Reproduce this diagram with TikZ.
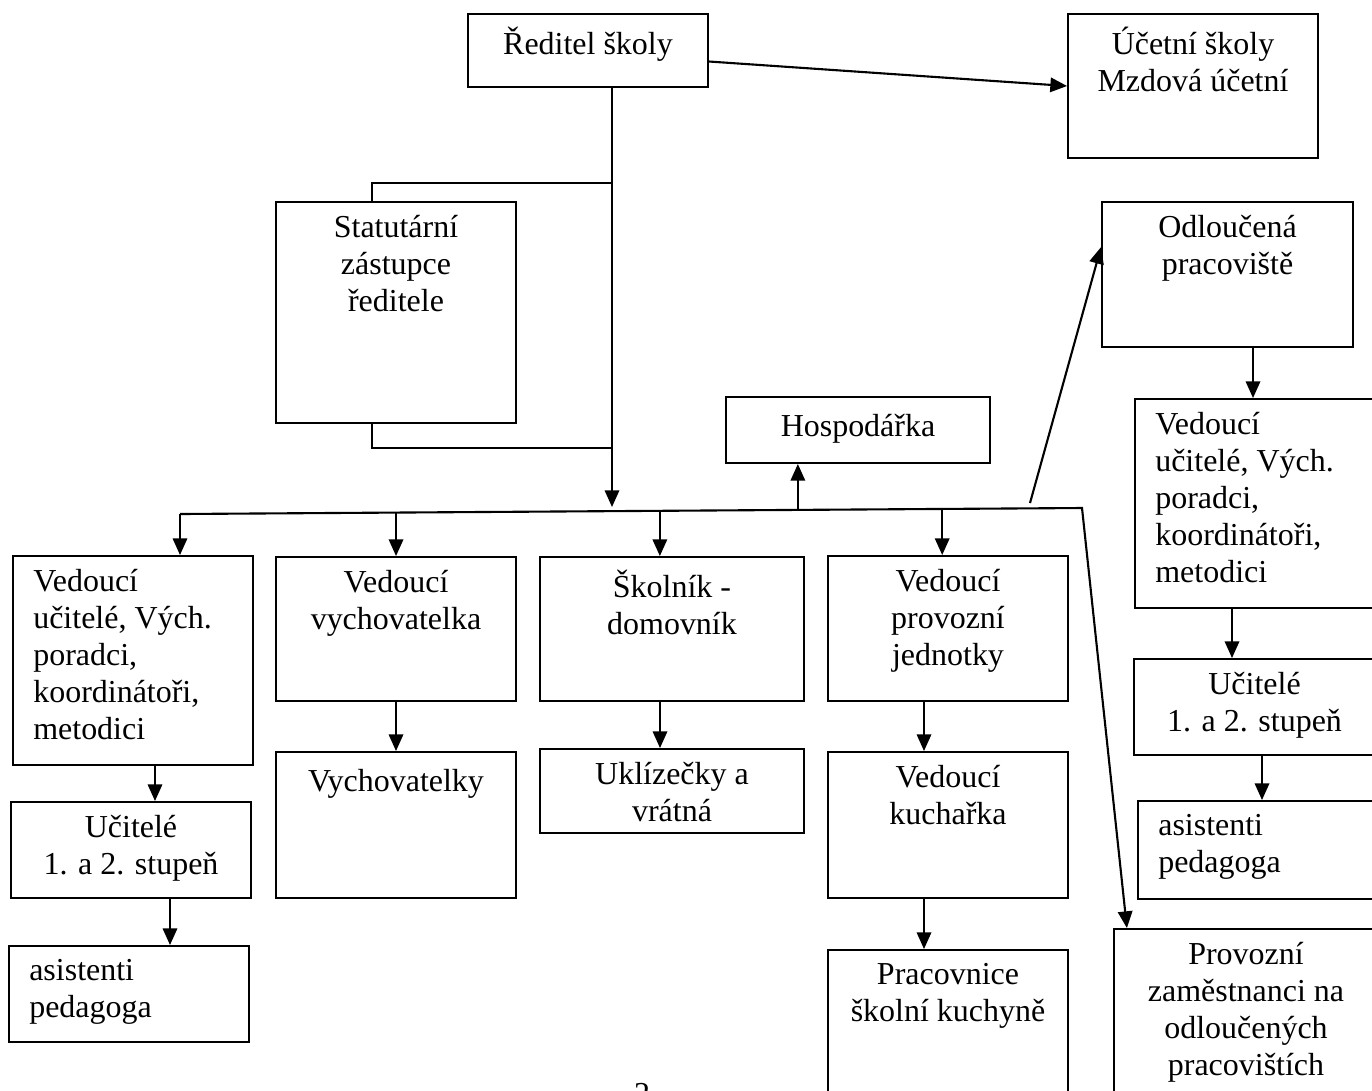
\documentclass[tikz,border=0pt]{standalone}
\usepackage{fontspec}
\setmainfont{Liberation Serif}
\usetikzlibrary{arrows.meta,calc,fit}
\newcommand{\orgfont}{\fontsize{18.2pt}{21pt}\selectfont}

\begin{document}
\begin{tikzpicture}[x=0.02cm,y=-0.02cm,
  box/.style={draw,line width=1.1pt,inner sep=0pt},
  toptext/.style={anchor=north,align=center,inner sep=0pt,font=\orgfont,yshift=-7.9pt,execute at begin node=\strut},
  lefttext/.style={anchor=north west,align=left,inner sep=0pt,font=\orgfont,xshift=11.9pt,yshift=-7.9pt,execute at begin node=\strut},
  link/.style={draw,line width=1.2pt},
  conn/.style={link,-{Triangle[length=9.5pt,width=8.2pt]}}]
\useasboundingbox (0,0) rectangle (1372,1090);
\node[box,fit={(468,14) (708,87)},label={[toptext]north:Ředitel školy}] (reditel) {};
\node[box,fit={(1068,14) (1318,158)},label={[toptext]north:Účetní školy\\Mzdová účetní}] (ucetni) {};
\node[box,fit={(276,202) (516,423)},label={[toptext]north:Statutární\\zástupce\\ředitele}] (zastupce) {};
\node[box,fit={(726,397) (990,463)},label={[toptext]north:Hospodářka}] (hospodarka) {};
\node[box,fit={(1102,202) (1353,347)},label={[toptext]north:Odloučená\\pracoviště}] (odloucena) {};
\node[box,fit={(1135,399) (1390,608)},label={[lefttext]north west:{Vedoucí\\učitelé, Vých.\\poradci,\\koordinátoři,\\metodici}}] (vedouciR) {};
\node[box,fit={(1134,659) (1375,755)},label={[toptext]north:Učitelé\\1. a 2. stupeň}] (uciteleR) {};
\node[box,fit={(1138,801) (1390,899)},label={[lefttext]north west:asistenti\\pedagoga}] (asistentiR) {};
\node[box,fit={(1114,929) (1378,1110)},label={[toptext]north:Provozní\\zaměstnanci na\\odloučených\\pracovištích}] (provozni) {};
\node[box,fit={(13,556) (253,765)},label={[lefttext]north west:{Vedoucí\\učitelé, Vých.\\poradci,\\koordinátoři,\\metodici}}] (vedouciL) {};
\node[box,fit={(11,802) (251,898)},label={[toptext]north:Učitelé\\1. a 2. stupeň}] (uciteleL) {};
\node[box,fit={(9,946) (249,1042)},label={[lefttext]north west:asistenti\\pedagoga}] (asistentiL) {};
\node[box,fit={(276,557) (516,701)},label={[toptext]north:Vedoucí\\vychovatelka}] (vedvych) {};
\node[box,fit={(276,752) (516,898)},label={[toptext]north:Vychovatelky}] (vychovatelky) {};
\node[box,fit={(540,557) (804,701)},label={[toptext]north:Školník -\\domovník}] (skolnik) {};
\node[box,fit={(540,749) (804,833)},label={[toptext]north:Uklízečky a\\vrátná}] (uklizecky) {};
\node[box,fit={(828,556) (1068,701)},label={[toptext]north:Vedoucí\\provozní\\jednotky}] (vedprov) {};
\node[box,fit={(828,752) (1068,898)},label={[toptext]north:Vedoucí\\kuchařka}] (kucharka) {};
\node[box,fit={(828,950) (1068,1110)},label={[toptext]north:Pracovnice\\školní kuchyně}] (pracovnice) {};
\node[font=\orgfont,anchor=north,inner sep=0pt] (pagenum) at (642,1083) {2};
\coordinate (trunk) at (612,507);
\coordinate (upper) at (612,183);
\coordinate (lower) at (612,448);
\coordinate (busL) at (180,514);
\coordinate (busR) at (1082,508);
\coordinate (split) at (1030,503);
\coordinate (dropB) at ($(busL)!0.2395!(busR)$);
\coordinate (dropC) at ($(busL)!0.532!(busR)$);
\coordinate (dropD) at ($(busL)!0.845!(busR)$);
\coordinate (dropH) at ($(busL)!0.685!(busR)$);
\draw[conn] ($(reditel.east)+(0,11)$) -- (ucetni.west);
\draw[conn] (reditel.south -| trunk) -- (trunk);
\draw[link] ([xshift=-13.6pt]zastupce.north) |- (upper);
\draw[link] ([xshift=-13.6pt]zastupce.south) |- (lower);
\draw[conn] (busL) -- (busR) -- ([xshift=7.9pt]provozni.north west);
\draw[conn] (busL) -- (busL |- vedouciL.north);
\draw[conn] (dropB) -- (dropB |- vedvych.north);
\draw[conn] (dropC) -- (dropC |- skolnik.north);
\draw[conn] (dropD) -- (dropD |- vedprov.north);
\draw[conn] (dropH) -- (dropH |- hospodarka.south);
\draw[conn] (split) -- ([yshift=15.6pt]odloucena.west);
\draw[conn] (odloucena.south -| 1253,0) -- (vedouciR.north -| 1253,0);
\draw[conn] (vedouciR.south -| 1232,0) -- (uciteleR.north -| 1232,0);
\draw[conn] (uciteleR.south -| 1262,0) -- (asistentiR.north -| 1262,0);
\draw[conn] (vedouciL.south -| 155,0) -- (uciteleL.north -| 155,0);
\draw[conn] (uciteleL.south -| 170,0) -- (asistentiL.north -| 170,0);
\draw[conn] (vedvych.south) -- (vychovatelky.north);
\draw[conn] (skolnik.south -| 660,0) -- (uklizecky.north -| 660,0);
\draw[conn] (vedprov.south -| 924,0) -- (kucharka.north -| 924,0);
\draw[conn] (kucharka.south -| 924,0) -- (pracovnice.north -| 924,0);
\end{tikzpicture}
\end{document}
